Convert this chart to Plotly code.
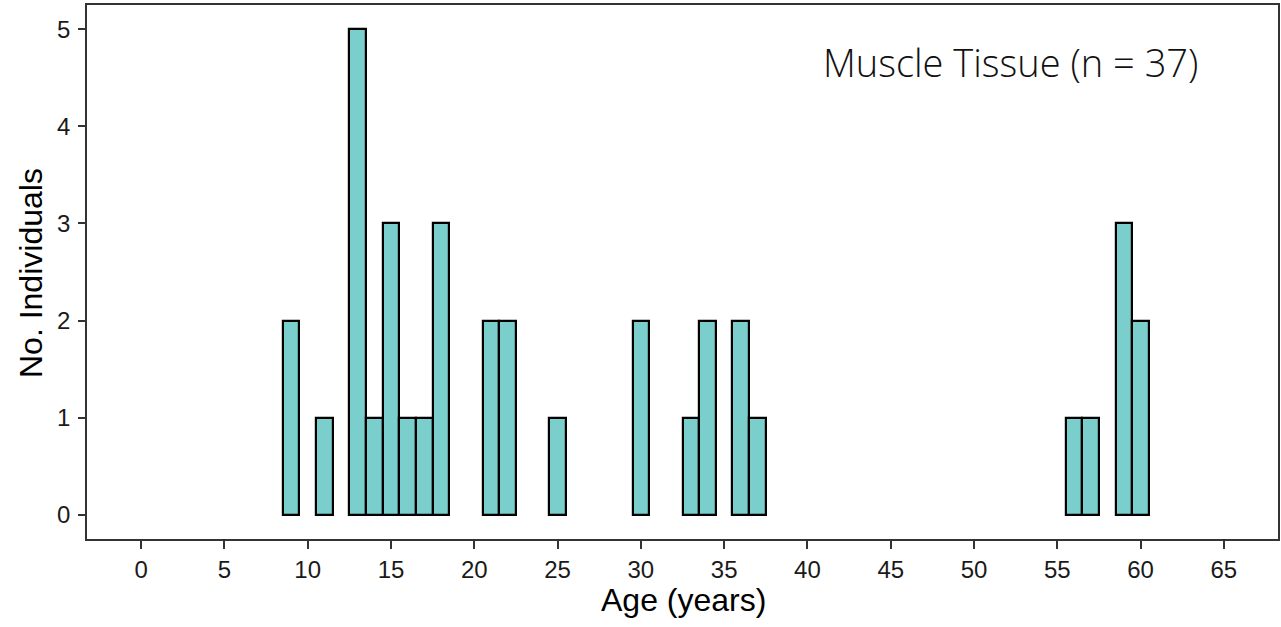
import plotly.graph_objects as go

ages = [9, 11, 13, 14, 15, 16, 17, 18, 21, 22, 25, 30, 33, 34, 36, 37, 56, 57, 59, 60]
counts = [2, 1, 5, 1, 3, 1, 1, 3, 2, 2, 1, 2, 1, 2, 2, 1, 1, 1, 3, 2]
x_ticks = list(range(0, 70, 5))
y_ticks = [0, 1, 2, 3, 4, 5]
label = "Muscle Tissue (n = 37)"

fig = go.Figure()
fig.add_trace(go.Bar(
    x=ages, y=counts, width=1,
    marker=dict(color="#7ACECC", line=dict(color="#000000", width=2.2)),
    hoverinfo="x+y",
))

L, R, T, B = 87, 3, 5, 88
W, H = 1281, 627

axis_common = dict(
    showgrid=False, zeroline=False, showline=True, linecolor="#333333", linewidth=1.5,
    mirror=True, ticks="outside", tickcolor="#333333", tickwidth=1.5,
    tickfont=dict(family="Liberation Sans, Arial, sans-serif", size=24, color="#1a1a1a"),
)

fig.update_layout(
    width=W, height=H,
    margin=dict(l=L, r=R, t=T, b=B, autoexpand=False),
    plot_bgcolor="white", paper_bgcolor="white",
    showlegend=False, bargap=0,
    xaxis=dict(range=[-3.25, 68.25], tickvals=x_ticks, ticklen=8, **axis_common),
    yaxis=dict(range=[-0.25, 5.25], tickvals=y_ticks, ticklen=7, ticklabelstandoff=3, **axis_common),
    annotations=[
        dict(text=label, xref="paper", yref="paper", x=(1200 - L) / (W - L - R), y=(H - B - 62) / (H - B - T),
             xanchor="right", yanchor="middle", showarrow=False,
             font=dict(family="Open Sans, Lato, sans-serif", size=38, color="#111111", weight=300)),
        dict(text="Age (years)", xref="paper", yref="paper", x=(683 - L) / (W - L - R), y=(H - B - 600) / (H - B - T),
             xanchor="center", yanchor="middle", showarrow=False,
             font=dict(family="Liberation Sans, Arial, sans-serif", size=32, color="#000000")),
        dict(text="No. Individuals", xref="paper", yref="paper", x=(31 - L) / (W - L - R), y=(H - B - 273) / (H - B - T),
             xanchor="center", yanchor="middle", textangle=-90, showarrow=False,
             font=dict(family="Liberation Sans, Arial, sans-serif", size=32, color="#000000")),
    ],
)

fig.write_html("out.html")
